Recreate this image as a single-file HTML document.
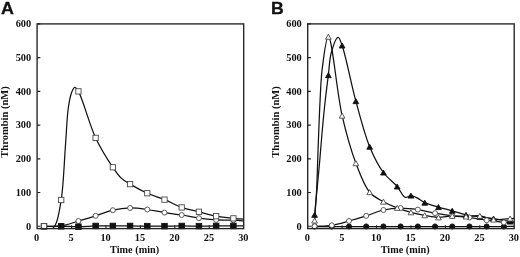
<!DOCTYPE html>
<html><head><meta charset="utf-8"><style>
html,body{margin:0;padding:0;background:#fff;width:520px;height:257px;overflow:hidden}
svg{display:block;filter:grayscale(1)}
.tl{font-family:"Liberation Serif",serif;font-weight:bold;font-size:9.6px;fill:#111}
.at{font-family:"Liberation Serif",serif;font-weight:bold;font-size:10.2px;fill:#111}
.pl{font-family:"Liberation Sans",sans-serif;font-weight:bold;font-size:17.2px;fill:#111;stroke:#111;stroke-width:0.3px}
</style></head><body>
<svg width="520" height="257" viewBox="0 0 520 257">
<defs><clipPath id="cA"><rect x="37.10" y="23.90" width="206.60" height="204.70"/></clipPath><clipPath id="cB"><rect x="307.70" y="23.90" width="206.50" height="204.70"/></clipPath></defs>
<path d="M43.99 226.30 C49.73 226.30 55.46 226.23 61.20 226.30 C66.94 226.37 72.68 226.76 78.42 226.70 C84.16 226.65 89.90 226.09 95.64 225.96 C101.37 225.84 107.11 225.96 112.85 225.96 C118.59 225.96 124.33 225.93 130.07 225.96 C135.81 225.99 141.55 226.10 147.29 226.13 C153.03 226.16 158.76 226.16 164.50 226.13 C170.24 226.10 175.98 225.96 181.72 225.96 C187.46 225.96 193.20 226.13 198.94 226.13 C204.68 226.13 210.41 225.99 216.15 225.96 C221.89 225.93 227.37 225.96 233.37 225.96 C239.94 225.96 247.14 225.96 254.03 225.96" stroke="#111" stroke-width="1.25" fill="none" clip-path="url(#cA)"/>
<path d="M43.99 226.30 C49.73 226.19 55.52 226.82 61.20 225.96 C67.00 225.09 72.69 222.69 78.42 221.00 C84.16 219.32 89.91 217.64 95.64 215.84 C101.39 214.04 107.05 211.52 112.85 210.21 C118.53 208.92 124.32 208.10 130.07 207.98 C135.80 207.87 141.57 208.73 147.29 209.50 C153.04 210.27 158.76 211.69 164.50 212.60 C170.23 213.52 175.99 214.07 181.72 215.00 C187.47 215.93 193.18 217.39 198.94 218.20 C204.66 219.02 210.41 219.55 216.15 219.89 C221.89 220.23 227.38 219.88 233.37 220.23 C239.95 220.61 247.14 221.58 254.03 222.25" stroke="#111" stroke-width="1.25" fill="none" clip-path="url(#cA)"/>
<path d="M43.99 226.30 C45.99 227.47 48.13 229.97 50.00 229.80 C51.86 229.63 53.71 227.76 55.20 225.30 C58.11 220.51 59.62 210.12 61.20 199.99 C63.51 185.24 64.23 161.52 65.50 145.00 C66.54 131.45 66.91 117.66 68.30 108.00 C69.21 101.69 70.15 96.21 71.60 92.50 C72.50 90.21 73.53 87.42 74.70 87.30 C75.82 87.19 77.01 89.06 78.42 91.37 C82.65 98.30 89.25 124.43 95.64 137.92 C100.93 149.09 107.88 159.93 112.85 167.27 C116.05 171.99 118.37 175.48 121.50 178.40 C124.18 180.89 126.66 182.10 130.07 184.13 C134.76 186.93 141.46 190.63 147.29 193.24 C152.94 195.78 158.80 197.31 164.50 199.65 C170.28 202.03 175.89 205.37 181.72 207.41 C187.37 209.39 193.20 210.33 198.94 211.79 C204.68 213.26 210.38 215.08 216.15 216.18 C221.86 217.27 227.36 217.77 233.37 218.37 C239.93 219.03 247.14 219.38 254.03 219.89" stroke="#111" stroke-width="1.25" fill="none" clip-path="url(#cA)"/>
<circle cx="43.99" cy="226.30" r="2.50" fill="#fff" stroke="#4a4a4a" stroke-width="0.9"/>
<circle cx="61.20" cy="225.96" r="2.50" fill="#fff" stroke="#4a4a4a" stroke-width="0.9"/>
<circle cx="78.42" cy="221.00" r="2.50" fill="#fff" stroke="#4a4a4a" stroke-width="0.9"/>
<circle cx="95.64" cy="215.84" r="2.50" fill="#fff" stroke="#4a4a4a" stroke-width="0.9"/>
<circle cx="112.85" cy="210.21" r="2.50" fill="#fff" stroke="#4a4a4a" stroke-width="0.9"/>
<circle cx="130.07" cy="207.98" r="2.50" fill="#fff" stroke="#4a4a4a" stroke-width="0.9"/>
<circle cx="147.29" cy="209.50" r="2.50" fill="#fff" stroke="#4a4a4a" stroke-width="0.9"/>
<circle cx="164.50" cy="212.60" r="2.50" fill="#fff" stroke="#4a4a4a" stroke-width="0.9"/>
<circle cx="181.72" cy="215.00" r="2.50" fill="#fff" stroke="#4a4a4a" stroke-width="0.9"/>
<circle cx="198.94" cy="218.20" r="2.50" fill="#fff" stroke="#4a4a4a" stroke-width="0.9"/>
<circle cx="216.15" cy="219.89" r="2.50" fill="#fff" stroke="#4a4a4a" stroke-width="0.9"/>
<circle cx="233.37" cy="220.23" r="2.50" fill="#fff" stroke="#4a4a4a" stroke-width="0.9"/>
<rect x="41.24" y="223.55" width="5.50" height="5.50" fill="#111" stroke="#111" stroke-width="0.9"/>
<rect x="58.45" y="223.55" width="5.50" height="5.50" fill="#111" stroke="#111" stroke-width="0.9"/>
<rect x="75.67" y="223.95" width="5.50" height="5.50" fill="#111" stroke="#111" stroke-width="0.9"/>
<rect x="92.89" y="223.21" width="5.50" height="5.50" fill="#111" stroke="#111" stroke-width="0.9"/>
<rect x="110.10" y="223.21" width="5.50" height="5.50" fill="#111" stroke="#111" stroke-width="0.9"/>
<rect x="127.32" y="223.21" width="5.50" height="5.50" fill="#111" stroke="#111" stroke-width="0.9"/>
<rect x="144.54" y="223.38" width="5.50" height="5.50" fill="#111" stroke="#111" stroke-width="0.9"/>
<rect x="161.75" y="223.38" width="5.50" height="5.50" fill="#111" stroke="#111" stroke-width="0.9"/>
<rect x="178.97" y="223.21" width="5.50" height="5.50" fill="#111" stroke="#111" stroke-width="0.9"/>
<rect x="196.19" y="223.38" width="5.50" height="5.50" fill="#111" stroke="#111" stroke-width="0.9"/>
<rect x="213.40" y="223.21" width="5.50" height="5.50" fill="#111" stroke="#111" stroke-width="0.9"/>
<rect x="230.62" y="223.21" width="5.50" height="5.50" fill="#111" stroke="#111" stroke-width="0.9"/>
<rect x="41.34" y="223.65" width="5.30" height="5.30" fill="#fff" stroke="#4a4a4a" stroke-width="0.9"/>
<rect x="58.55" y="197.34" width="5.30" height="5.30" fill="#fff" stroke="#4a4a4a" stroke-width="0.9"/>
<rect x="75.77" y="88.72" width="5.30" height="5.30" fill="#fff" stroke="#4a4a4a" stroke-width="0.9"/>
<rect x="92.99" y="135.27" width="5.30" height="5.30" fill="#fff" stroke="#4a4a4a" stroke-width="0.9"/>
<rect x="110.20" y="164.62" width="5.30" height="5.30" fill="#fff" stroke="#4a4a4a" stroke-width="0.9"/>
<rect x="127.42" y="181.48" width="5.30" height="5.30" fill="#fff" stroke="#4a4a4a" stroke-width="0.9"/>
<rect x="144.64" y="190.59" width="5.30" height="5.30" fill="#fff" stroke="#4a4a4a" stroke-width="0.9"/>
<rect x="161.85" y="197.00" width="5.30" height="5.30" fill="#fff" stroke="#4a4a4a" stroke-width="0.9"/>
<rect x="179.07" y="204.76" width="5.30" height="5.30" fill="#fff" stroke="#4a4a4a" stroke-width="0.9"/>
<rect x="196.29" y="209.14" width="5.30" height="5.30" fill="#fff" stroke="#4a4a4a" stroke-width="0.9"/>
<rect x="213.50" y="213.53" width="5.30" height="5.30" fill="#fff" stroke="#4a4a4a" stroke-width="0.9"/>
<rect x="230.72" y="215.72" width="5.30" height="5.30" fill="#fff" stroke="#4a4a4a" stroke-width="0.9"/>
<path d="M314.58 226.50 C320.32 226.50 326.06 226.50 331.79 226.50 C337.53 226.50 343.26 226.50 349.00 226.50 C354.74 226.50 360.47 226.50 366.21 226.50 C371.94 226.50 377.68 226.50 383.42 226.50 C389.15 226.50 394.89 226.50 400.62 226.50 C406.36 226.50 412.10 226.50 417.83 226.50 C423.57 226.50 429.31 226.50 435.04 226.50 C440.78 226.50 446.51 226.50 452.25 226.50 C457.99 226.50 463.72 226.50 469.46 226.50 C475.19 226.50 480.93 226.50 486.67 226.50 C492.40 226.50 497.88 226.53 503.88 226.50 C510.44 226.47 517.64 226.37 524.53 226.30" stroke="#111" stroke-width="1.25" fill="none" clip-path="url(#cB)"/>
<path d="M314.58 226.30 C320.32 225.96 326.10 226.16 331.79 225.29 C337.57 224.41 343.28 222.57 349.00 221.00 C354.75 219.43 360.49 217.67 366.21 215.84 C371.96 214.01 377.61 211.30 383.42 210.01 C389.09 208.74 394.89 208.15 400.62 208.08 C406.36 208.02 412.12 208.77 417.83 209.60 C423.59 210.45 429.29 212.10 435.04 213.14 C440.77 214.18 446.50 215.11 452.25 215.84 C457.98 216.57 463.73 216.80 469.46 217.53 C475.21 218.26 480.92 219.42 486.67 220.23 C492.40 221.04 497.87 221.93 503.88 222.39 C510.43 222.88 517.64 222.75 524.53 222.93" stroke="#111" stroke-width="1.25" fill="none" clip-path="url(#cB)"/>
<path d="M314.58 214.83 C315.39 206.55 316.17 198.67 317.00 190.00 C317.91 180.47 318.92 170.00 319.80 160.00 C320.68 150.00 321.38 140.00 322.30 130.00 C323.22 120.00 324.24 109.52 325.30 100.00 C326.27 91.33 327.34 83.21 328.35 75.17 C329.31 67.57 329.36 59.64 331.20 53.00 C332.81 47.19 336.07 37.34 338.10 37.30 C339.58 37.27 340.64 41.43 342.12 45.49 C345.82 55.67 351.06 83.58 355.88 101.15 C360.28 117.15 364.35 133.87 369.65 146.69 C373.80 156.74 378.27 165.49 383.42 172.50 C387.63 178.23 393.34 181.99 397.18 186.49 C400.37 190.24 402.41 196.48 405.20 197.40 C407.06 198.01 409.05 195.57 410.95 195.60 C412.85 195.64 414.60 196.64 416.60 197.60 C419.12 198.82 421.55 201.22 424.72 202.69 C428.61 204.49 433.88 205.72 438.48 207.07 C443.06 208.42 447.67 209.49 452.25 210.78 C456.85 212.08 461.39 213.82 466.02 214.83 C470.57 215.83 475.19 216.24 479.78 216.85 C484.37 217.47 488.76 217.81 493.55 218.54 C498.82 219.35 504.73 220.96 510.07 221.58 C515.03 222.15 519.71 222.03 524.53 222.25" stroke="#111" stroke-width="1.25" fill="none" clip-path="url(#cB)"/>
<path d="M314.58 220.57 C315.26 210.38 316.08 200.14 316.60 190.00 C317.12 179.96 317.33 170.00 317.70 160.00 C318.07 150.00 318.40 140.00 318.80 130.00 C319.20 120.00 319.55 110.00 320.10 100.00 C320.65 90.00 320.80 80.22 322.10 70.00 C323.47 59.15 325.91 36.70 328.35 36.72 C332.10 36.74 336.83 92.78 342.12 115.65 C346.27 133.63 350.68 149.49 355.88 163.22 C360.07 174.27 364.03 185.64 369.65 192.23 C373.70 196.98 378.71 199.02 383.42 201.67 C387.90 204.19 392.54 206.10 397.18 207.88 C401.72 209.63 406.33 211.06 410.95 212.30 C415.51 213.53 420.11 214.45 424.72 215.30 C429.29 216.15 433.89 217.31 438.48 217.39 C443.07 217.48 447.66 215.99 452.25 215.84 C456.83 215.70 461.43 216.52 466.02 216.52 C470.61 216.52 475.23 215.35 479.78 215.84 C484.41 216.34 488.71 219.06 493.55 219.55 C498.76 220.08 504.75 218.77 510.07 218.54 C515.05 218.33 519.71 218.32 524.53 218.20" stroke="#111" stroke-width="1.25" fill="none" clip-path="url(#cB)"/>
<circle cx="314.58" cy="226.50" r="2.60" fill="#111" stroke="#111" stroke-width="0.9"/>
<circle cx="331.79" cy="226.50" r="2.60" fill="#111" stroke="#111" stroke-width="0.9"/>
<circle cx="349.00" cy="226.50" r="2.60" fill="#111" stroke="#111" stroke-width="0.9"/>
<circle cx="366.21" cy="226.50" r="2.60" fill="#111" stroke="#111" stroke-width="0.9"/>
<circle cx="383.42" cy="226.50" r="2.60" fill="#111" stroke="#111" stroke-width="0.9"/>
<circle cx="400.62" cy="226.50" r="2.60" fill="#111" stroke="#111" stroke-width="0.9"/>
<circle cx="417.83" cy="226.50" r="2.60" fill="#111" stroke="#111" stroke-width="0.9"/>
<circle cx="435.04" cy="226.50" r="2.60" fill="#111" stroke="#111" stroke-width="0.9"/>
<circle cx="452.25" cy="226.50" r="2.60" fill="#111" stroke="#111" stroke-width="0.9"/>
<circle cx="469.46" cy="226.50" r="2.60" fill="#111" stroke="#111" stroke-width="0.9"/>
<circle cx="486.67" cy="226.50" r="2.60" fill="#111" stroke="#111" stroke-width="0.9"/>
<circle cx="503.88" cy="226.50" r="2.60" fill="#111" stroke="#111" stroke-width="0.9"/>
<circle cx="314.58" cy="226.30" r="2.50" fill="#fff" stroke="#4a4a4a" stroke-width="0.9"/>
<circle cx="331.79" cy="225.29" r="2.50" fill="#fff" stroke="#4a4a4a" stroke-width="0.9"/>
<circle cx="349.00" cy="221.00" r="2.50" fill="#fff" stroke="#4a4a4a" stroke-width="0.9"/>
<circle cx="366.21" cy="215.84" r="2.50" fill="#fff" stroke="#4a4a4a" stroke-width="0.9"/>
<circle cx="383.42" cy="210.01" r="2.50" fill="#fff" stroke="#4a4a4a" stroke-width="0.9"/>
<circle cx="400.62" cy="208.08" r="2.50" fill="#fff" stroke="#4a4a4a" stroke-width="0.9"/>
<circle cx="417.83" cy="209.60" r="2.50" fill="#fff" stroke="#4a4a4a" stroke-width="0.9"/>
<circle cx="435.04" cy="213.14" r="2.50" fill="#fff" stroke="#4a4a4a" stroke-width="0.9"/>
<circle cx="452.25" cy="215.84" r="2.50" fill="#fff" stroke="#4a4a4a" stroke-width="0.9"/>
<circle cx="469.46" cy="217.53" r="2.50" fill="#fff" stroke="#4a4a4a" stroke-width="0.9"/>
<circle cx="486.67" cy="220.23" r="2.50" fill="#fff" stroke="#4a4a4a" stroke-width="0.9"/>
<circle cx="503.88" cy="222.39" r="2.50" fill="#fff" stroke="#4a4a4a" stroke-width="0.9"/>
<path d="M314.58 212.33L317.43 217.33L311.73 217.33Z" fill="#111" stroke="#111" stroke-width="0.9" stroke-linejoin="miter"/>
<path d="M328.35 72.67L331.20 77.67L325.50 77.67Z" fill="#111" stroke="#111" stroke-width="0.9" stroke-linejoin="miter"/>
<path d="M342.12 42.99L344.97 47.99L339.27 47.99Z" fill="#111" stroke="#111" stroke-width="0.9" stroke-linejoin="miter"/>
<path d="M355.88 98.65L358.73 103.65L353.03 103.65Z" fill="#111" stroke="#111" stroke-width="0.9" stroke-linejoin="miter"/>
<path d="M369.65 144.19L372.50 149.19L366.80 149.19Z" fill="#111" stroke="#111" stroke-width="0.9" stroke-linejoin="miter"/>
<path d="M383.42 170.00L386.27 175.00L380.57 175.00Z" fill="#111" stroke="#111" stroke-width="0.9" stroke-linejoin="miter"/>
<path d="M397.18 183.99L400.03 188.99L394.33 188.99Z" fill="#111" stroke="#111" stroke-width="0.9" stroke-linejoin="miter"/>
<path d="M410.95 193.10L413.80 198.10L408.10 198.10Z" fill="#111" stroke="#111" stroke-width="0.9" stroke-linejoin="miter"/>
<path d="M424.72 200.19L427.57 205.19L421.87 205.19Z" fill="#111" stroke="#111" stroke-width="0.9" stroke-linejoin="miter"/>
<path d="M438.48 204.57L441.33 209.57L435.63 209.57Z" fill="#111" stroke="#111" stroke-width="0.9" stroke-linejoin="miter"/>
<path d="M452.25 208.28L455.10 213.28L449.40 213.28Z" fill="#111" stroke="#111" stroke-width="0.9" stroke-linejoin="miter"/>
<path d="M466.02 212.33L468.87 217.33L463.17 217.33Z" fill="#111" stroke="#111" stroke-width="0.9" stroke-linejoin="miter"/>
<path d="M479.78 214.35L482.63 219.35L476.93 219.35Z" fill="#111" stroke="#111" stroke-width="0.9" stroke-linejoin="miter"/>
<path d="M493.55 216.04L496.40 221.04L490.70 221.04Z" fill="#111" stroke="#111" stroke-width="0.9" stroke-linejoin="miter"/>
<path d="M510.07 219.08L512.92 224.08L507.22 224.08Z" fill="#111" stroke="#111" stroke-width="0.9" stroke-linejoin="miter"/>
<path d="M314.58 218.07L317.43 223.07L311.73 223.07Z" fill="#fff" stroke="#4a4a4a" stroke-width="0.9" stroke-linejoin="miter"/>
<path d="M328.35 34.22L331.20 39.22L325.50 39.22Z" fill="#fff" stroke="#4a4a4a" stroke-width="0.9" stroke-linejoin="miter"/>
<path d="M342.12 113.15L344.97 118.15L339.27 118.15Z" fill="#fff" stroke="#4a4a4a" stroke-width="0.9" stroke-linejoin="miter"/>
<path d="M355.88 160.72L358.73 165.72L353.03 165.72Z" fill="#fff" stroke="#4a4a4a" stroke-width="0.9" stroke-linejoin="miter"/>
<path d="M369.65 189.73L372.50 194.73L366.80 194.73Z" fill="#fff" stroke="#4a4a4a" stroke-width="0.9" stroke-linejoin="miter"/>
<path d="M383.42 199.17L386.27 204.17L380.57 204.17Z" fill="#fff" stroke="#4a4a4a" stroke-width="0.9" stroke-linejoin="miter"/>
<path d="M397.18 205.38L400.03 210.38L394.33 210.38Z" fill="#fff" stroke="#4a4a4a" stroke-width="0.9" stroke-linejoin="miter"/>
<path d="M410.95 209.80L413.80 214.80L408.10 214.80Z" fill="#fff" stroke="#4a4a4a" stroke-width="0.9" stroke-linejoin="miter"/>
<path d="M424.72 212.80L427.57 217.80L421.87 217.80Z" fill="#fff" stroke="#4a4a4a" stroke-width="0.9" stroke-linejoin="miter"/>
<path d="M438.48 214.89L441.33 219.89L435.63 219.89Z" fill="#fff" stroke="#4a4a4a" stroke-width="0.9" stroke-linejoin="miter"/>
<path d="M452.25 213.34L455.10 218.34L449.40 218.34Z" fill="#fff" stroke="#4a4a4a" stroke-width="0.9" stroke-linejoin="miter"/>
<path d="M466.02 214.02L468.87 219.02L463.17 219.02Z" fill="#fff" stroke="#4a4a4a" stroke-width="0.9" stroke-linejoin="miter"/>
<path d="M479.78 213.34L482.63 218.34L476.93 218.34Z" fill="#fff" stroke="#4a4a4a" stroke-width="0.9" stroke-linejoin="miter"/>
<path d="M493.55 217.05L496.40 222.05L490.70 222.05Z" fill="#fff" stroke="#4a4a4a" stroke-width="0.9" stroke-linejoin="miter"/>
<path d="M510.07 216.04L512.92 221.04L507.22 221.04Z" fill="#fff" stroke="#4a4a4a" stroke-width="0.9" stroke-linejoin="miter"/>
<rect x="37.10" y="23.90" width="206.60" height="204.70" stroke="#222" stroke-width="1.35" fill="none"/>
<path d="M37.10 226.30h3.2M37.10 192.57h3.2M37.10 158.83h3.2M37.10 125.10h3.2M37.10 91.37h3.2M37.10 57.63h3.2M37.10 23.90h3.2M71.53 228.60v-3.4M105.97 228.60v-3.4M140.40 228.60v-3.4M174.83 228.60v-3.4M209.27 228.60v-3.4" stroke="#222" stroke-width="1.1" fill="none"/>
<text class="tl" text-anchor="end" transform="translate(31.20 229.55) scale(1.080 1)">0</text>
<text class="tl" text-anchor="end" transform="translate(31.20 195.82) scale(1.080 1)">100</text>
<text class="tl" text-anchor="end" transform="translate(31.20 162.08) scale(1.080 1)">200</text>
<text class="tl" text-anchor="end" transform="translate(31.20 128.35) scale(1.080 1)">300</text>
<text class="tl" text-anchor="end" transform="translate(31.20 94.62) scale(1.080 1)">400</text>
<text class="tl" text-anchor="end" transform="translate(31.20 60.88) scale(1.080 1)">500</text>
<text class="tl" text-anchor="end" transform="translate(31.20 27.15) scale(1.080 1)">600</text>
<text class="tl" text-anchor="middle" transform="translate(36.70 240.60) scale(1.080 1)">0</text>
<text class="tl" text-anchor="middle" transform="translate(71.13 240.60) scale(1.080 1)">5</text>
<text class="tl" text-anchor="middle" transform="translate(105.57 240.60) scale(1.080 1)">10</text>
<text class="tl" text-anchor="middle" transform="translate(140.00 240.60) scale(1.080 1)">15</text>
<text class="tl" text-anchor="middle" transform="translate(174.43 240.60) scale(1.080 1)">20</text>
<text class="tl" text-anchor="middle" transform="translate(208.87 240.60) scale(1.080 1)">25</text>
<text class="tl" text-anchor="middle" transform="translate(243.30 240.60) scale(1.080 1)">30</text>
<text class="at" text-anchor="middle" transform="translate(134.60 253.40) scale(1.045 1)" style="font-size:9.8px">Time (min)</text>
<text class="at" text-anchor="middle" transform="translate(8.00 122.00) rotate(-90)" style="font-size:10.5px">Thrombin (nM)</text>
<rect x="307.70" y="23.90" width="206.50" height="204.70" stroke="#222" stroke-width="1.35" fill="none"/>
<path d="M307.70 226.30h3.2M307.70 192.57h3.2M307.70 158.83h3.2M307.70 125.10h3.2M307.70 91.37h3.2M307.70 57.63h3.2M307.70 23.90h3.2M342.12 228.60v-3.4M376.53 228.60v-3.4M410.95 228.60v-3.4M445.37 228.60v-3.4M479.78 228.60v-3.4" stroke="#222" stroke-width="1.1" fill="none"/>
<text class="tl" text-anchor="end" transform="translate(301.80 229.55) scale(1.080 1)">0</text>
<text class="tl" text-anchor="end" transform="translate(301.80 195.82) scale(1.080 1)">100</text>
<text class="tl" text-anchor="end" transform="translate(301.80 162.08) scale(1.080 1)">200</text>
<text class="tl" text-anchor="end" transform="translate(301.80 128.35) scale(1.080 1)">300</text>
<text class="tl" text-anchor="end" transform="translate(301.80 94.62) scale(1.080 1)">400</text>
<text class="tl" text-anchor="end" transform="translate(301.80 60.88) scale(1.080 1)">500</text>
<text class="tl" text-anchor="end" transform="translate(301.80 27.15) scale(1.080 1)">600</text>
<text class="tl" text-anchor="middle" transform="translate(307.30 240.60) scale(1.080 1)">0</text>
<text class="tl" text-anchor="middle" transform="translate(341.72 240.60) scale(1.080 1)">5</text>
<text class="tl" text-anchor="middle" transform="translate(376.13 240.60) scale(1.080 1)">10</text>
<text class="tl" text-anchor="middle" transform="translate(410.55 240.60) scale(1.080 1)">15</text>
<text class="tl" text-anchor="middle" transform="translate(444.97 240.60) scale(1.080 1)">20</text>
<text class="tl" text-anchor="middle" transform="translate(479.38 240.60) scale(1.080 1)">25</text>
<text class="tl" text-anchor="middle" transform="translate(513.80 240.60) scale(1.080 1)">30</text>
<text class="at" text-anchor="middle" transform="translate(405.20 253.40) scale(1.045 1)" style="font-size:9.8px">Time (min)</text>
<text class="at" text-anchor="middle" transform="translate(278.60 122.00) rotate(-90)" style="font-size:10.5px">Thrombin (nM)</text>
<text class="pl" transform="translate(1.1 14.3) scale(1.04 1)">A</text>
<text class="pl" transform="translate(271.0 14.4) scale(1.03 1)">B</text>
</svg>
</body></html>
